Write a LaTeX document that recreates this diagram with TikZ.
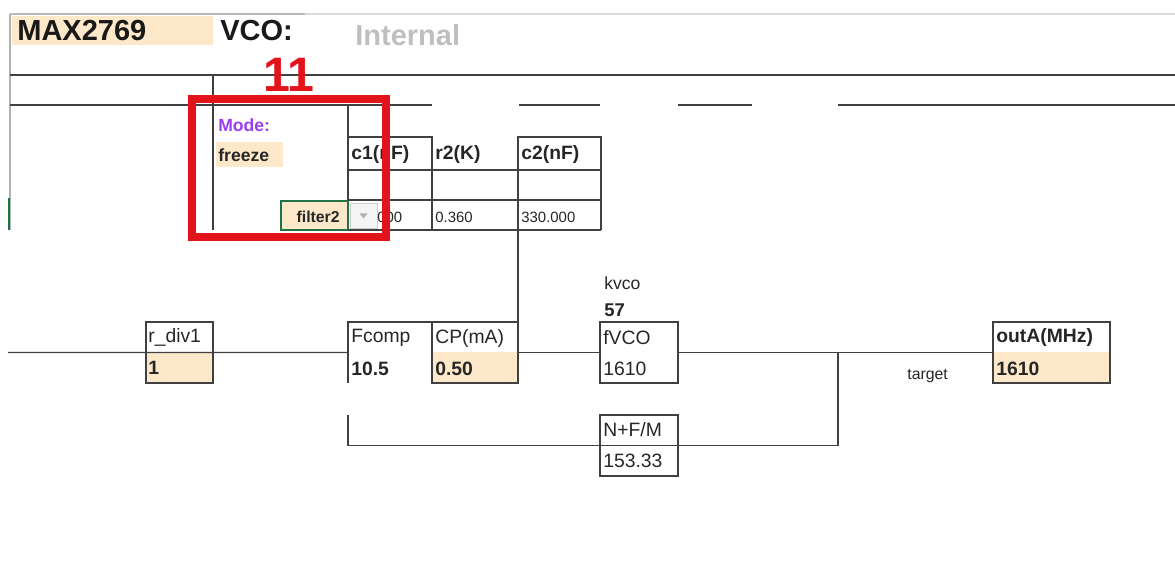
\documentclass[tikz,border=0pt]{standalone}
\usepackage{fontspec}
\setmainfont{Liberation Sans}
\usepackage{xcolor}
\usetikzlibrary{positioning, fit, calc}

\definecolor{cellfill}{HTML}{FDE9C9}
\definecolor{modepurple}{HTML}{9B3FF0}
\definecolor{markred}{HTML}{E3131B}
\definecolor{selgreen}{HTML}{217346}

\begin{document}
\begin{tikzpicture}[x=0.02cm, y=-0.02cm]
    \tikzset{
        wire/.style={draw=black!75, line width=0.8pt},
        box/.style={draw=black!75, line width=0.8pt, inner sep=0pt, outer sep=0pt},
        area/.style={inner sep=0pt, outer sep=0pt},
        lbl/.style={anchor=west, inner sep=0pt, text=black!85, font=\fontsize{11}{13}\selectfont},
        val/.style={lbl, font=\bfseries\fontsize{11}{13}\selectfont},
        smalltxt/.style={lbl, font=\fontsize{8.5}{10}\selectfont},
        head/.style={anchor=west, inner sep=0pt, font=\bfseries\fontsize{16.5}{19}\selectfont}
    }
    \useasboundingbox (0,0) rectangle (1175,563);

    % header row
    \node (chip) [area, fill=cellfill, fit={(12,16) (213,45)}] {};
    \node (chipT) [head, text=black!90] at (17,31) {MAX2769};
    \node (vco) [head, text=black!90] at (220,31) {VCO:};
    \node (vcoSrc) [head, text=black!25] at (355,35) {Internal};

    % sheet grid
    \draw[gray!55, line width=1pt] (10,14) -- (305,14);
    \draw[gray!30, line width=1pt] (305,14) -- (1175,14);
    \draw[gray!60, line width=0.8pt] (10,14) -- (10,230);
    \draw[selgreen, line width=1.5pt] (9,198) -- (9,230);
    \draw[wire] (10,75) -- (1175,75);
    \draw[wire] (10,105) -- (432,105);
    \draw[wire] (519,105) -- (600,105);
    \draw[wire] (678,105) -- (752,105);
    \draw[wire] (838,105) -- (1175,105);
    \draw[wire] (213,75) -- (213,230);
    \draw[wire] (348,105) -- (348,230);

    % mode / filter selection
    \node (mode) [lbl, text=modepurple, font=\bfseries\fontsize{10}{12}\selectfont] at (218,125) {Mode:};
    \node (freezeBg) [area, fill=cellfill, fit={(216,142) (283,167)}] {};
    \node (freeze) [lbl, font=\bfseries\fontsize{10}{12}\selectfont] at (218,155) {freeze};
    \node (filt) [area, fill=cellfill, draw=selgreen, line width=1.2pt, fit={(281,201) (348,230)}] {};
    \node (filtT) [lbl, anchor=east, font=\bfseries\fontsize{9}{11}\selectfont] at (340,217) {filter2};
    \node (drop) [area, fill=gray!8, draw=gray!40, fit={(350,203) (377,228)}] {};
    \fill[gray!60] ($(drop.center)+(-4,-2)$) -- ++(8,0) -- ++(-4,5) -- cycle;

    % loop filter table
    \node (c1h) [area, fit={(348,137) (432,170)}] {};
    \node (r2h) [area, fit={(432,137) (518,170)}] {};
    \node (c2h) [area, fit={(518,137) (601,170)}] {};
    \node (c1v) [area, fit={(348,200) (432,230)}] {};
    \node (r2v) [area, fit={(432,200) (518,230)}] {};
    \node (c2v) [area, fit={(518,200) (601,230)}] {};
    \draw[wire] (c1h.south west) |- (c1h.north east) -- (c1v.south east);
    \draw[wire] (c2h.south west) |- (c2h.north east) -- (c2v.south east);
    \draw[wire] (c2h.north west) -- (c2v.south west);
    \draw[wire] (c1h.south west) -- (c2h.south east);
    \draw[wire] (c1v.north west) -- (c2v.north east);
    \draw[wire] (c1v.south west) -- (c2v.south east);
    \node (c1T) [val] at (351,155) {c1(nF)};
    \node (r2T) [val] at (435,155) {r2(K)};
    \node (c2T) [val] at (521,155) {c2(nF)};
    \node (c1val) [smalltxt] at (377,217) {000};
    \node (r2val) [smalltxt] at (435,217) {0.360};
    \node (c2val) [smalltxt] at (521,217) {330.000};

    % pll blocks
    \node (rdivLo) [area, fill=cellfill, fit={(146,352.5) (213,383)}] {};
    \node (rdiv) [box, fit={(146,322) (213,383)}] {};
    \node (rdivT) [lbl] at (148,337) {r\_div1};
    \node (rdivV) [val] at (148,368) {1};

    \node (fcomp) [area, fit={(348,322) (432,383)}] {};
    \draw[wire] (fcomp.south west) |- (fcomp.north east);
    \node (fcompT) [lbl] at (351,338) {Fcomp};
    \node (fcompV) [val] at (351,369) {10.5};

    \node (cpLo) [area, fill=cellfill, fit={(432,352.5) (518,383)}] {};
    \node (cp) [box, fit={(432,322) (518,383)}] {};
    \node (cpT) [lbl] at (435,338) {CP(mA)};
    \node (cpV) [val] at (435,369) {0.50};

    \node (kvco) [lbl, font=\fontsize{10}{12}\selectfont] at (604,283) {kvco};
    \node (kvcoV) [val, font=\bfseries\fontsize{10.5}{12}\selectfont] at (604,310) {57};

    \node (fvco) [box, fit={(600,322) (678,383)}] {};
    \node (fvcoT) [lbl] at (603,338) {fVCO};
    \node (fvcoV) [lbl] at (603,369) {1610};

    \node (outLo) [area, fill=cellfill, fit={(993,352.5) (1110,383)}] {};
    \node (outa) [box, fit={(993,322) (1110,383)}] {};
    \node (outaT) [val] at (996,338) {outA(MHz)};
    \node (outaV) [val] at (996,369) {1610};
    \node (target) [lbl, font=\fontsize{9}{11}\selectfont] at (907,376) {target};

    \node (nfm) [box, fit={(600,415) (678,476)}] {};
    \node (nfmT) [lbl] at (603,430) {N+F/M};
    \node (nfmV) [lbl] at (603,461) {153.33};

    % wiring
    \coordinate (lin) at (8,352.5);
    \coordinate (fb) at (348,415);
    \coordinate (jn) at (838,352.5);
    \draw[wire] (lin) -- (rdiv.west) -- (rdiv.east) -- (fcomp.west);
    \draw[wire] (c2v.south west) -- (cp.north east);
    \draw[wire] (cp.east) -- (fvco.west);
    \draw[wire] (fvco.east) -- (outa.west);
    \draw[wire] (fb) |- (nfm.west) -- (nfm.east) -| (jn);

    % highlight
    \draw[markred, line width=4pt] (192,99) rectangle (386,237);
    \node (step11) [inner sep=0pt, text=markred, font=\bfseries\fontsize{27.5}{30}\selectfont] at (289,75) {11};
\end{tikzpicture}
\end{document}
